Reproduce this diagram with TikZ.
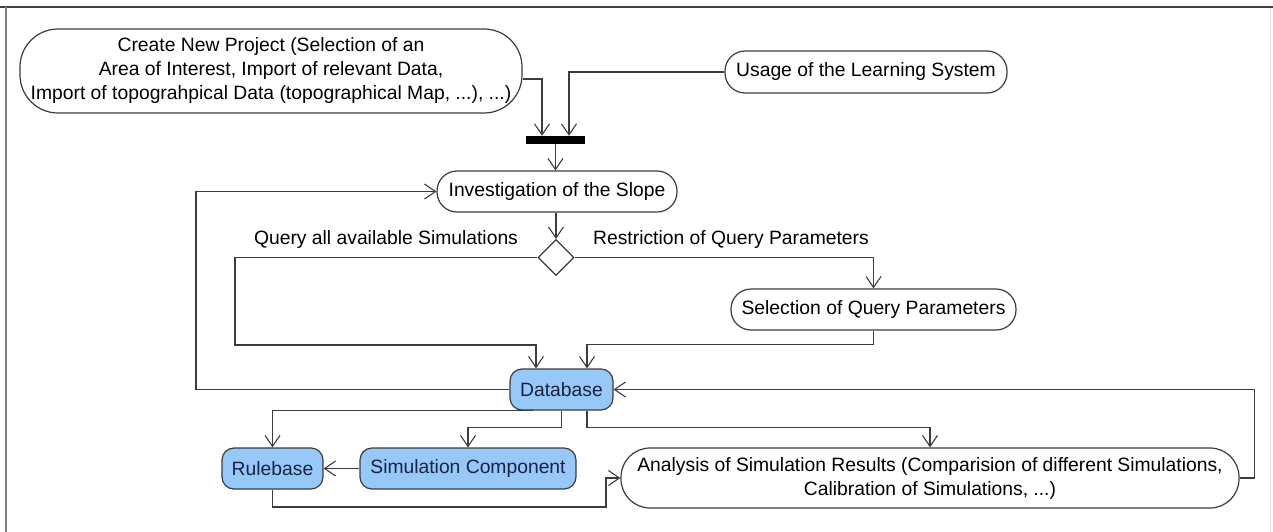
\documentclass[tikz,border=0pt]{standalone}
\usepackage{fontspec}
\setmainfont{Liberation Sans}
\usetikzlibrary{arrows.meta,shapes.geometric}
\definecolor{linec}{RGB}{60,60,60}
\definecolor{bluefill}{RGB}{150,200,250}
\definecolor{bluetext}{RGB}{25,35,65}
\begin{document}
\begin{tikzpicture}[x=1pt,y=-1pt,
  every node/.style={font=\fontsize{19.3}{24}\selectfont},
  conn/.style={draw=linec,line width=1.2pt,-{Straight Barb[length=11pt,width=15pt,line width=1.1pt]}},
  actbox/.style={draw=linec,line width=1.2pt,fill=white,inner sep=0pt,align=center,rounded corners=20pt},
  bluebox/.style={draw=linec,line width=1.2pt,fill=bluefill,text=bluetext,inner sep=0pt,align=center,rounded corners=12pt,minimum height=41pt},
  lbl/.style={inner sep=0pt}]
\useasboundingbox (0,0) rectangle (1273,532);
% frame
\draw[line width=1.6pt,draw=black!75] (0,7) -- (1273,7);
\draw[line width=1.6pt,draw=black!50] (6,7) -- (6,532);
\draw[line width=0.8pt,draw=black!12] (1270,8) -- (1270,532);
% nodes
\node[actbox,rounded corners=38pt,minimum width=502pt,minimum height=84pt] (create) at (271,71)
  {Create New Project (Selection of an\\Area of Interest, Import of relevant Data,\\Import of topograhpical Data (topographical Map, ...), ...)};
\node[actbox,minimum width=282pt,minimum height=42pt] (usage) at (866,72) {Usage of the Learning System};
\node[fill=black,inner sep=0pt,minimum width=59pt,minimum height=8pt] (bar) at (555.5,140) {};
\node[actbox,minimum width=240pt,minimum height=41pt] (inv) at (557,191.5) {Investigation of the Slope};
\node[diamond,draw=linec,line width=1.2pt,fill=white,inner sep=0pt,minimum width=36pt,minimum height=36pt] (dia) at (556,257.5) {};
\node[lbl] (ql) at (386,240) {Query all available Simulations};
\node[lbl] (rl) at (731,240) {Restriction of Query Parameters};
\node[actbox,minimum width=285pt,minimum height=41pt] (sel) at (873.5,309.5) {Selection of Query Parameters};
\node[bluebox,minimum width=103pt] (db) at (561.5,389.5) {Database};
\node[bluebox,minimum width=101pt] (rb) at (272.5,468.5) {Rulebase};
\node[bluebox,minimum width=216pt] (sc) at (468,468.5) {Simulation Component};
\node[actbox,rounded corners=29pt,minimum width=618pt,minimum height=60pt] (an) at (930,478)
  {Analysis of Simulation Results (Comparision of different Simulations,\\Calibration of Simulations, ...)};
% helper coordinates
\coordinate (q1) at (235,345);
\coordinate (l1) at (196,390);
\coordinate (r1) at (606,507);
% connectors
\draw[conn] ([yshift=-8pt]create.east) -| ([xshift=-13.5pt]bar.north);
\draw[conn] (usage.west) -| ([xshift=13.5pt]bar.north);
\draw[conn] (bar.south) -- (bar.south |- inv.north);
\draw[conn] (dia.north |- inv.south) -- (dia.north);
\draw[conn] (dia.west) -| (q1) -| ([xshift=-25.5pt]db.north);
\draw[conn] (dia.east) -| (sel.north);
\draw[conn] (sel.south) -- ++(0,14) -| ([xshift=25.5pt]db.north);
\draw[conn] (db.west) -- (db.west -| l1) |- (inv.west);
\draw[conn] ([xshift=-28.5pt]db.south) -| (rb.north);
\draw[conn] (db.south) -- ++(0,17) -| (sc.north);
\draw[conn] ([xshift=25.5pt]db.south) -- ++(0,17) -| (an.north);
\draw[conn] (sc.west) -- (rb.east);
\draw[conn] (rb.south) |- (r1) |- (an.west);
\draw[conn] (an.east) -- ++(15,0) |- (db.east);
\end{tikzpicture}
\end{document}
